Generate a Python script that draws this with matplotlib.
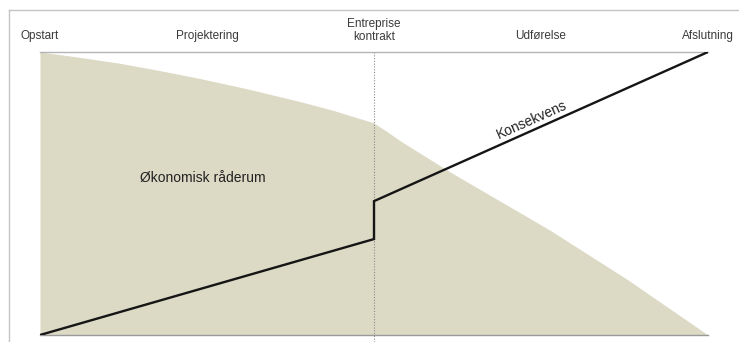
import numpy as np
import matplotlib.pyplot as plt
from matplotlib.lines import Line2D

plt.rcParams['font.family'] = ['Liberation Sans', 'DejaVu Sans']

# phase labels along the top (x position on a 0-100 time scale)
phase_labels = ['Opstart', 'Projektering', 'Entreprise\nkontrakt', 'Udførelse', 'Afslutning']
phase_x = [0, 25, 50, 75, 100]

# economic room to manoeuvre (filled area)
room_x = [0, 6, 12, 18, 24, 31, 38.9, 44, 49.9, 52, 54, 61.4, 76.3, 88, 100]
room_y = [100, 98.1, 96.0, 93.4, 90.6, 87.0, 82.5, 79.3, 75.0, 71.8, 68.5, 57.6, 37.1, 19.5, 0]

# consequence of changes (black line, jumps at the contract)
cons_x = [0, 50, 50, 100]
cons_y = [0, 33.9, 47.3, 100]

contract_x = 50

fig = plt.figure(figsize=(7.39, 3.42), dpi=100)
ax = fig.add_axes([40 / 739, 7 / 342, 668 / 739, 283 / 342])

ax.fill_between(room_x, room_y, 0, color='#dcd9c5', linewidth=0)
ax.plot([contract_x, contract_x], [100, -2.5], color='#8a8a8a', lw=0.8,
        ls=(0, (1, 1.5)), clip_on=False, zorder=2)
ax.plot(cons_x, cons_y, color='#151515', lw=1.7, solid_joinstyle='miter', zorder=3)

ax.set_xlim(0, 100)
ax.set_ylim(0, 100)
ax.set_xticks([])
ax.set_yticks([])
for side in ['left', 'right']:
    ax.spines[side].set_visible(False)
ax.spines['top'].set_color('#b5b5b5')
ax.spines['bottom'].set_color('#9a9a9a')
ax.spines['top'].set_linewidth(1.0)
ax.spines['bottom'].set_linewidth(1.0)

for lbl, xp in zip(phase_labels, phase_x):
    yp = 105.5 if '\n' not in lbl else 107.5
    ax.text(xp, yp, lbl, ha='center', va='center', fontsize=8.5,
            color='#3a3a3a', linespacing=1.15, clip_on=False)

ax.text(24.4, 55.5, 'Økonomisk råderum', ha='center', va='center',
        fontsize=10, color='#222222')

# angle of the upper line segment on screen
pts = ax.transData.transform([(cons_x[2], cons_y[2]), (cons_x[3], cons_y[3])])
rot = np.degrees(np.arctan2(pts[1][1] - pts[0][1], pts[1][0] - pts[0][0]))
ax.text(73.7, 76.0, 'Konsekvens', ha='center', va='center', fontsize=10,
        color='#222222', rotation=rot, rotation_mode='anchor')

# outer chart frame (top and left edges visible)
fig.add_artist(Line2D([9 / 739, 1], [1 - 10 / 342, 1 - 10 / 342],
                      color='#c4c4c4', lw=1.0, transform=fig.transFigure))
fig.add_artist(Line2D([9 / 739, 9 / 739], [0, 1 - 10 / 342],
                      color='#c4c4c4', lw=1.0, transform=fig.transFigure))

fig.savefig('out.png', dpi=100)
